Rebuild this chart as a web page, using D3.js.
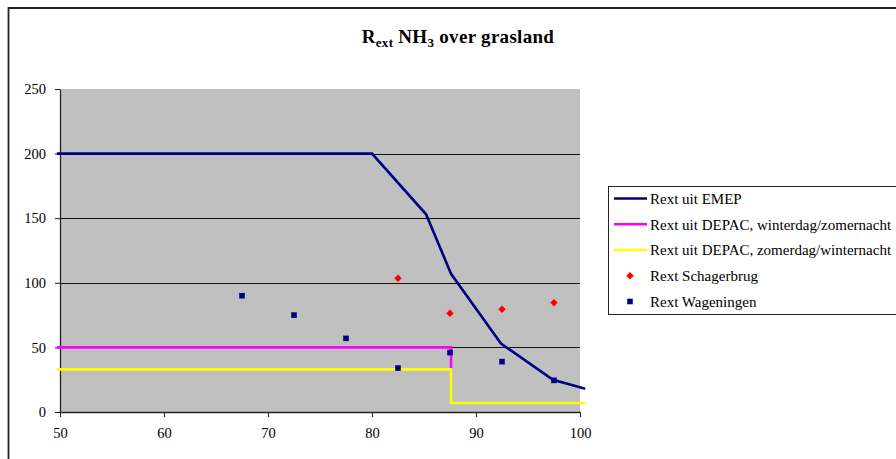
<!DOCTYPE html>
<html>
<head>
<meta charset="utf-8">
<script src="https://cdn.jsdelivr.net/npm/d3@7/dist/d3.min.js"></script>
<style>
  html, body { margin: 0; padding: 0; background: #fff; }
  svg text { font-family: "Liberation Serif", "DejaVu Serif", serif; }
</style>
</head>
<body>
<svg id="chart" width="896" height="459"></svg>
<script>
// Rext NH3 over grassland: model curves and measured values
const emepX = [49.7, 80, 85.2, 87.6, 92.4, 97.4, 100.5];
const emepY = [200, 200, 153, 107, 53, 25, 18];

const depacWinterX = [49.7, 87.6, 87.6];
const depacWinterY = [50, 50, 33];

const depacZomerX = [49.7, 87.6, 87.6, 100.5];
const depacZomerY = [33, 33, 7, 7];

const schagerX = [82.5, 87.5, 92.5, 97.5];
const schagerY = [103.5, 76.5, 79.5, 84.5];

const wageningenX = [67.5, 72.5, 77.5, 82.5, 87.5, 92.5, 97.5];
const wageningenY = [90, 75, 57, 34, 46, 39, 24.5];

const xTicks = [50, 60, 70, 80, 90, 100];
const yTicks = [0, 50, 100, 150, 200, 250];

const legendLabels = [
  "Rext uit EMEP",
  "Rext uit DEPAC, winterdag/zomernacht",
  "Rext uit DEPAC, zomerdag/winternacht",
  "Rext Schagerbrug",
  "Rext Wageningen"
];

const NAVY = "#000080", MAGENTA = "#FF00FF", YELLOW = "#FFFF00", RED = "#FF0000";
const SERIF = '"Liberation Serif", "DejaVu Serif", serif';

const svg = d3.select("#chart");

// chart frame
svg.append("path")
  .attr("d", "M8.5,470 V8 H900")
  .attr("fill", "none").attr("stroke", "#222").attr("stroke-width", 1.8);

const plot = { left: 60, right: 580, top: 89, bottom: 412 };
const x = d3.scaleLinear().domain([50, 100]).range([plot.left, plot.right]);
const y = d3.scaleLinear().domain([0, 250]).range([plot.bottom, plot.top]);

// plot background
svg.append("rect")
  .attr("x", plot.left).attr("y", plot.top)
  .attr("width", plot.right - plot.left).attr("height", plot.bottom - plot.top)
  .attr("fill", "#C0C0C0");

// horizontal gridlines
svg.append("g").selectAll("line")
  .data(yTicks.filter(v => v > 0 && v < 250))
  .join("line")
  .attr("x1", plot.left).attr("x2", plot.right)
  .attr("y1", d => Math.round(y(d)) + 0.5).attr("y2", d => Math.round(y(d)) + 0.5)
  .attr("stroke", "#111").attr("stroke-width", 1);

// axes
const yAxis = d3.axisLeft(y).tickValues(yTicks).tickSize(5).tickPadding(9).tickSizeOuter(0);
const xAxis = d3.axisBottom(x).tickValues(xTicks).tickSize(5).tickPadding(11).tickSizeOuter(0);

const gy = svg.append("g").attr("transform", `translate(${plot.left},0)`).call(yAxis);
const gx = svg.append("g").attr("transform", `translate(0,${plot.bottom})`).call(xAxis);
[gx, gy].forEach(g => {
  g.attr("font-family", SERIF).attr("font-size", 14);
  g.select(".domain").attr("stroke", "#222").attr("stroke-width", 1.3);
  g.selectAll(".tick line").attr("stroke", "#222").attr("stroke-width", 1);
  g.selectAll(".tick text")
    .attr("fill", "#000")
    .style("font-family", SERIF)
    .style("font-size", "14.5px");
});

// line series
const line = d3.line().x(d => x(d[0])).y(d => y(d[1]));
const zipXY = (xs, ys) => xs.map((v, i) => [v, ys[i]]);

const lineSeries = [
  { pts: zipXY(depacWinterX, depacWinterY), color: MAGENTA },
  { pts: zipXY(depacZomerX, depacZomerY), color: YELLOW },
  { pts: zipXY(emepX, emepY), color: NAVY }
];
svg.append("g").selectAll("path")
  .data(lineSeries)
  .join("path")
  .attr("d", d => line(d.pts))
  .attr("fill", "none")
  .attr("stroke", d => d.color)
  .attr("stroke-width", 2.6)
  .attr("stroke-linejoin", "miter");

// Wageningen squares
svg.append("g").selectAll("rect")
  .data(zipXY(wageningenX, wageningenY))
  .join("rect")
  .attr("x", d => x(d[0]) - 2.8).attr("y", d => y(d[1]) - 2.8)
  .attr("width", 5.6).attr("height", 5.6)
  .attr("fill", NAVY);

// Schagerbrug diamonds
const diamond = d3.symbol().type(d3.symbolDiamond2).size(36);
svg.append("g").selectAll("path")
  .data(zipXY(schagerX, schagerY))
  .join("path")
  .attr("transform", d => `translate(${x(d[0])},${y(d[1])})`)
  .attr("d", diamond)
  .attr("fill", RED);

// title
const title = svg.append("text")
  .attr("x", 458).attr("y", 43)
  .attr("text-anchor", "middle")
  .style("font-family", SERIF)
  .style("font-weight", "bold")
  .style("font-size", "19px")
  .style("letter-spacing", "0.3px");
title.append("tspan").text("R");
title.append("tspan").attr("dy", 4).style("font-size", "13px").text("ext");
title.append("tspan").attr("dy", -4).text(" NH");
title.append("tspan").attr("dy", 4).style("font-size", "13px").text("3");
title.append("tspan").attr("dy", -4).text(" over grasland");

// legend
const legend = svg.append("g");
legend.append("rect")
  .attr("x", 608.5).attr("y", 186.5)
  .attr("width", 300).attr("height", 128)
  .attr("fill", "#fff").attr("stroke", "#222").attr("stroke-width", 1);

const legendKinds = ["line", "line", "line", "diamond", "square"];
const legendColors = [NAVY, MAGENTA, YELLOW, RED, NAVY];
const ly = d3.scaleLinear().domain([0, 4]).range([198.5, 301.5]);

const items = legend.selectAll("g.item")
  .data(legendLabels.map((t, i) => ({ t, i })))
  .join("g").attr("class", "item")
  .attr("transform", d => `translate(0,${ly(d.i)})`);

items.filter(d => legendKinds[d.i] === "line").append("line")
  .attr("x1", 614).attr("x2", 647)
  .attr("stroke", d => legendColors[d.i]).attr("stroke-width", 2.6);
items.filter(d => legendKinds[d.i] === "diamond").append("path")
  .attr("transform", "translate(630,0)")
  .attr("d", diamond).attr("fill", RED);
items.filter(d => legendKinds[d.i] === "square").append("rect")
  .attr("x", 627.2).attr("y", -2.8).attr("width", 5.6).attr("height", 5.6)
  .attr("fill", NAVY);
items.append("text")
  .attr("x", 650).attr("dy", "0.35em")
  .style("font-family", SERIF)
  .style("font-size", "15px")
  .text(d => d.t);
</script>
</body>
</html>
